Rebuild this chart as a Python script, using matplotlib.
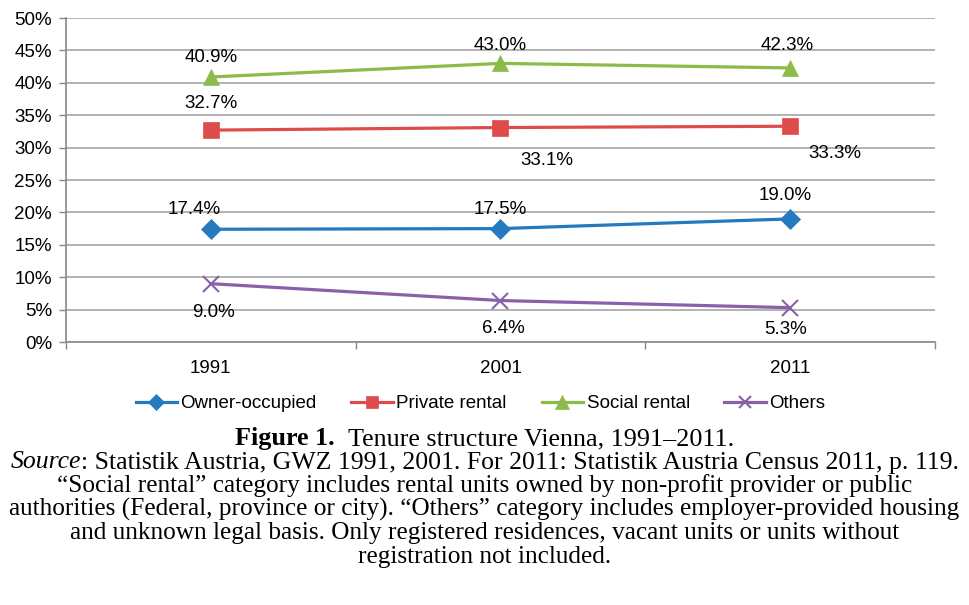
import numpy as np
import matplotlib.pyplot as plt

years = ['1991', '2001', '2011']
owner = [17.4, 17.5, 19.0]
private = [32.7, 33.1, 33.3]
social = [40.9, 43.0, 42.3]
others = [9.0, 6.4, 5.3]
yticks = [0, 5, 10, 15, 20, 25, 30, 35, 40, 45, 50]

# label offsets in pixels, per point
off_owner = [(-17, 20), (0, 19), (-5, 23)]
off_private = [(0, 27), (46, -33), (45, -27)]
off_social = [(0, 19), (0, 18), (-3, 22)]
off_others = [(3, -29), (3, -28), (-5, -22)]

plt.rcParams['font.family'] = ['Liberation Sans', 'DejaVu Sans']
FS = 13.5

fig = plt.figure(figsize=(9.69, 6.05), dpi=100)
ax = fig.add_axes([0.0681, 0.4347, 0.8968, 0.5355])

x = np.arange(len(years))
series = [
    ('Owner-occupied', owner, '#2479BF', 'D', 10, off_owner),
    ('Private rental', private, '#DD4B4A', 's', 11, off_private),
    ('Social rental', social, '#8CBB48', '^', 12, off_social),
    ('Others', others, '#8A61A9', 'x', 11, off_others),
]
for name, vals, col, mk, ms, offs in series:
    ax.plot(x, vals, color=col, marker=mk, markersize=ms, lw=2.3,
            markeredgewidth=1.5 if mk == 'x' else 0.5, markeredgecolor=col,
            label=name, zorder=3)
    for xi, v, (dx, dy) in zip(x, vals, offs):
        ax.annotate(f'{v:.1f}%', (xi, v), xytext=(dx, dy),
                    textcoords='offset pixels', ha='center', va='center',
                    fontsize=FS, color='black', zorder=4)

ax.set_xlim(-0.5, 2.5)
ax.set_ylim(0, 50)
ax.set_yticks(yticks)
ax.set_yticklabels([f'{t}%' for t in yticks])
ax.set_xticks(x)
ax.set_xticklabels(years)
ax.set_xticks([-0.5, 0.5, 1.5, 2.5], minor=True)
ax.tick_params(axis='x', which='major', length=0, pad=13, labelsize=FS)
ax.tick_params(axis='x', which='minor', length=5, color='#888888', width=1)
ax.tick_params(axis='y', length=5, color='#888888', width=1, labelsize=FS, pad=5)
ax.grid(axis='y', color='#A6A6A6', lw=1.2, zorder=0)
for s in ['top', 'right']:
    ax.spines[s].set_visible(False)
for s in ['left', 'bottom']:
    ax.spines[s].set_color('#888888')
    ax.spines[s].set_linewidth(1.2)

ax.legend(loc='center', bbox_to_anchor=(0.477, -0.19), ncol=4, frameon=False,
          fontsize=FS, handlelength=2.2, handletextpad=0.2, columnspacing=1.85,
          markerscale=0.8, borderaxespad=0)

# caption in serif, lines centred by measuring text widths
serif = 'Liberation Serif'
CFS = 18.2
renderer = fig.canvas.get_renderer()


def centred_line(parts, ypix, size, gap=0):
    txts = []
    for s, kw in parts:
        txts.append(fig.text(0, 1 - ypix / 605, s, fontsize=size, family=serif,
                             ha='left', va='center', **kw))
    widths = [t.get_window_extent(renderer).width for t in txts]
    total = sum(widths) + gap * (len(txts) - 1)
    xpos = (969 - total) / 2
    for t, w in zip(txts, widths):
        t.set_x(xpos / 969)
        xpos += w + gap


centred_line([('Figure 1.', {'fontweight': 'bold'}),
              ('Tenure structure Vienna, 1991\u20132011.', {})], 439, 18.8, gap=13)
centred_line([('Source', {'style': 'italic'}),
              (': Statistik Austria, GWZ 1991, 2001. For 2011: Statistik Austria Census 2011, p. 119.', {})],
             462.5, 18.5)
rest = ['\u201cSocial rental\u201d category includes rental units owned by non-profit provider or public',
        'authorities (Federal, province or city). \u201cOthers\u201d category includes employer-provided housing',
        'and unknown legal basis. Only registered residences, vacant units or units without',
        'registration not included.']
for i, line in enumerate(rest):
    fig.text(0.5, 1 - (486 + 23.5 * i) / 605, line, fontsize=CFS, family=serif,
             ha='center', va='center')

fig.savefig('out.png', dpi=100)
